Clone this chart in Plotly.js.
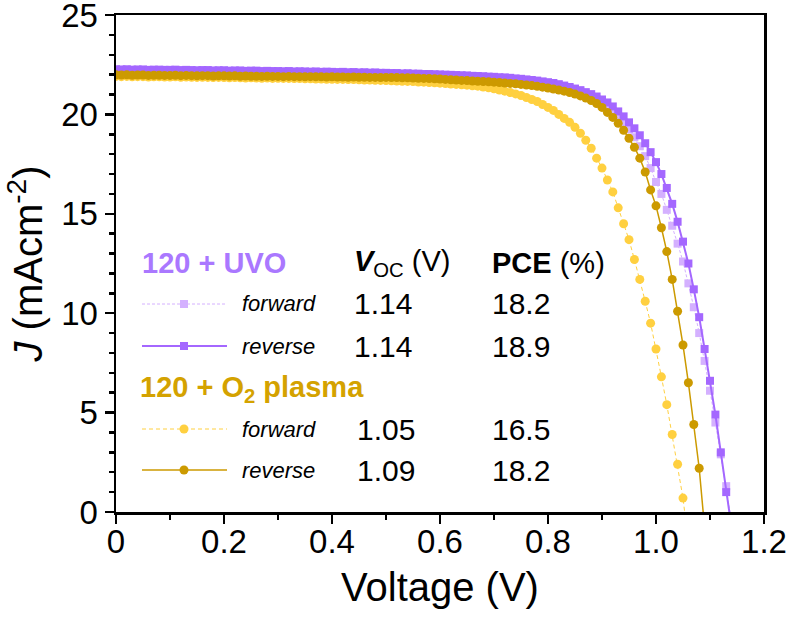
<!DOCTYPE html>
<html>
<head>
<meta charset="utf-8">
<script src="https://cdn.plot.ly/plotly-3.0.1.min.js"></script>
<style>html,body{margin:0;padding:0;background:#fff;}#chart{width:787px;height:618px;}</style>
</head>
<body>
<div id="chart"></div>
<script>
// ---- data ----
const voltage = [
 0.00,0.01,0.02,0.03,0.04,0.05,0.06,0.07,0.08,0.09,
 0.10,0.11,0.12,0.13,0.14,0.15,0.16,0.17,0.18,0.19,
 0.20,0.21,0.22,0.23,0.24,0.25,0.26,0.27,0.28,0.29,
 0.30,0.31,0.32,0.33,0.34,0.35,0.36,0.37,0.38,0.39,
 0.40,0.41,0.42,0.43,0.44,0.45,0.46,0.47,0.48,0.49,
 0.50,0.51,0.52,0.53,0.54,0.55,0.56,0.57,0.58,0.59,
 0.60,0.61,0.62,0.63,0.64,0.65,0.66,0.67,0.68,0.69,
 0.70,0.71,0.72,0.73,0.74,0.75,0.76,0.77,0.78,0.79,
 0.80,0.81,0.82,0.83,0.84,0.85,0.86,0.87,0.88,0.89,
 0.90,0.91,0.92,0.93,0.94,0.95,0.96,0.97,0.98,0.99,
 1.00,1.01,1.02,1.03,1.04,1.05,1.06,1.07,1.08,1.09,
 1.10,1.11,1.12,1.13,1.14
];
const uvoReverse = [
 22.27,22.26,22.27,22.25,22.26,22.26,22.24,22.25,22.25,22.24,
 22.24,22.25,22.23,22.24,22.23,22.22,22.23,22.23,22.21,22.22,
 22.22,22.20,22.21,22.21,22.19,22.20,22.20,22.18,22.19,22.18,
 22.18,22.17,22.18,22.16,22.17,22.16,22.15,22.16,22.14,22.15,
 22.14,22.13,22.14,22.12,22.13,22.11,22.12,22.10,22.11,22.09,
 22.09,22.08,22.08,22.06,22.07,22.05,22.05,22.03,22.03,22.02,
 22.01,22.00,21.99,21.98,21.97,21.96,21.94,21.93,21.92,21.90,
 21.89,21.87,21.86,21.84,21.81,21.79,21.76,21.73,21.70,21.66,
 21.62,21.58,21.52,21.45,21.38,21.30,21.22,21.12,21.02,20.90,
 20.75,20.60,20.40,20.15,19.90,19.60,19.30,18.95,18.55,18.10,
 17.60,17.00,16.30,15.50,14.60,13.60,12.50,11.20,9.80,8.20,
 6.60,4.90,3.00,1.00,-0.80
];
const uvoForward = [
 22.22,22.21,22.22,22.20,22.21,22.21,22.19,22.20,22.20,22.19,
 22.19,22.20,22.18,22.19,22.18,22.17,22.18,22.17,22.16,22.17,
 22.16,22.15,22.16,22.15,22.14,22.15,22.14,22.13,22.14,22.12,
 22.13,22.12,22.12,22.11,22.11,22.10,22.10,22.09,22.09,22.08,
 22.08,22.07,22.07,22.06,22.06,22.05,22.05,22.04,22.03,22.03,
 22.02,22.01,22.01,22.00,21.99,21.98,21.97,21.96,21.95,21.94,
 21.93,21.92,21.91,21.89,21.88,21.87,21.85,21.84,21.82,21.80,
 21.79,21.77,21.75,21.73,21.71,21.69,21.67,21.65,21.63,21.61,
 21.57,21.52,21.47,21.41,21.34,21.26,21.17,21.06,20.93,20.78,
 20.60,20.40,20.15,19.90,19.60,19.25,18.85,18.40,17.90,17.30,
 16.60,16.00,15.20,14.40,13.50,12.60,11.50,10.30,9.00,7.60,
 6.10,4.50,2.90,1.30,-0.50
];
const o2Reverse = [
 21.99,21.98,21.99,21.97,21.98,21.98,21.96,21.97,21.97,21.96,
 21.96,21.97,21.95,21.96,21.95,21.94,21.95,21.95,21.93,21.94,
 21.94,21.93,21.94,21.92,21.93,21.92,21.92,21.91,21.92,21.91,
 21.91,21.90,21.91,21.90,21.90,21.89,21.90,21.89,21.89,21.88,
 21.89,21.88,21.88,21.87,21.88,21.87,21.87,21.86,21.86,21.85,
 21.86,21.85,21.85,21.84,21.84,21.83,21.82,21.81,21.80,21.79,
 21.78,21.76,21.74,21.73,21.71,21.70,21.68,21.67,21.65,21.64,
 21.62,21.60,21.58,21.56,21.54,21.51,21.48,21.45,21.41,21.37,
 21.33,21.28,21.23,21.17,21.10,21.02,20.93,20.82,20.70,20.55,
 20.35,20.10,19.85,19.55,19.20,18.80,18.35,17.80,17.10,16.20,
 15.40,14.30,13.10,11.70,10.10,8.40,6.50,4.40,2.20,-0.80
];
const o2Forward = [
 21.91,21.90,21.91,21.89,21.90,21.90,21.88,21.89,21.89,21.88,
 21.88,21.89,21.87,21.88,21.87,21.86,21.87,21.86,21.85,21.86,
 21.85,21.84,21.85,21.84,21.83,21.84,21.83,21.82,21.83,21.81,
 21.82,21.81,21.81,21.80,21.80,21.79,21.79,21.78,21.78,21.77,
 21.77,21.76,21.76,21.75,21.75,21.74,21.73,21.73,21.72,21.71,
 21.70,21.69,21.68,21.67,21.66,21.65,21.63,21.62,21.60,21.59,
 21.57,21.55,21.53,21.51,21.49,21.47,21.44,21.42,21.38,21.34,
 21.29,21.23,21.17,21.10,21.03,20.95,20.85,20.75,20.65,20.50,
 20.35,20.20,20.00,19.80,19.60,19.35,19.05,18.70,18.30,17.80,
 17.30,16.70,16.10,15.30,14.50,13.70,12.70,11.70,10.60,9.50,
 8.20,6.80,5.40,3.90,2.40,0.70,-1.60
];
const xTickVals = [0, 0.2, 0.4, 0.6, 0.8, 1.0, 1.2];
const xTickText = ['0', '0.2', '0.4', '0.6', '0.8', '1.0', '1.2'];
const yTickVals = [0, 5, 10, 15, 20, 25];
const groupNames = ['120 + UVO', '120 + O<sub>2</sub> plasma'];
const scanNames = ['forward', 'reverse'];
const vocValues = [['1.14', '1.14'], ['1.05', '1.09']];
const pceValues = [['18.2', '18.9'], ['16.5', '18.2']];

// ---- styles ----
const FONT = 'Liberation Sans, Arial, Helvetica, sans-serif';
const cPurple = '#A467FF', cLilac = '#D4B0FF', cGold = '#CC9A00', cYellow = '#FFD040';
const headColors = ['#AA78FF', '#D4A200'];

const traces = [
  {x: voltage.slice(0, uvoForward.length), y: uvoForward, mode: 'lines+markers',
   line: {color: cLilac, width: 1, dash: '3px,2px'}, marker: {symbol: 'square', size: 8, color: cLilac}},
  {x: voltage.slice(0, uvoReverse.length), y: uvoReverse, mode: 'lines+markers',
   line: {color: cPurple, width: 2}, marker: {symbol: 'square', size: 8, color: cPurple}},
  {x: voltage.slice(0, o2Forward.length), y: o2Forward, mode: 'lines+markers',
   line: {color: cYellow, width: 1, dash: '4px,3px'}, marker: {symbol: 'circle', size: 9, color: cYellow}},
  {x: voltage.slice(0, o2Reverse.length), y: o2Reverse, mode: 'lines+markers',
   line: {color: cGold, width: 1.5}, marker: {symbol: 'circle', size: 9, color: cGold}}
];

// plot area in pixels
const L = 116, R = 764, T = 15, B = 512;
const px = v => (v - L) / (R - L);
const py = v => (B - v) / (B - T);

const annotations = [];
const shapes = [];
function txt(text, x, y, size, color) {
  annotations.push({text: text, xref: 'paper', yref: 'paper', x: px(x), y: py(y),
    xanchor: 'left', yanchor: 'middle', showarrow: false,
    font: {family: FONT, size: size, color: color || '#000'}});
}
// header row
txt('<b>' + groupNames[0] + '</b>', 140, 263, 29, headColors[0]);
txt('<b><i>V</i></b><sub>OC</sub> (V)', 352, 263, 29);
txt('<b>PCE</b> (%)', 490, 263, 29);
txt('<b>' + groupNames[1] + '</b>', 138, 389, 29, headColors[1]);
const rowY = [[304, 346], [429, 470]];
const sampleStyle = [
  [{c: cLilac, w: 1, d: '3px,2px', sym: 'square'}, {c: cPurple, w: 2, d: 'solid', sym: 'square'}],
  [{c: cYellow, w: 1, d: '4px,3px', sym: 'circle'}, {c: cGold, w: 1.5, d: 'solid', sym: 'circle'}]
];
const vocX = [352, 355];
for (let g = 0; g < 2; g++) {
  for (let s = 0; s < 2; s++) {
    const y = rowY[g][s];
    txt('<i>' + scanNames[s] + '</i>', 240, y, 22);
    txt(vocValues[g][s], vocX[g], y, 30);
    txt(pceValues[g][s], 490, y, 30);
    const st = sampleStyle[g][s];
    shapes.push({type: 'line', xref: 'paper', yref: 'paper', x0: px(142), x1: px(227), y0: py(y), y1: py(y),
      line: {color: st.c, width: st.w, dash: st.d}});
    const r = st.sym === 'square' ? 4 : 4.5;
    shapes.push({type: st.sym === 'square' ? 'rect' : 'circle', xref: 'paper', yref: 'paper',
      x0: px(184 - r), x1: px(184 + r), y0: py(y + r), y1: py(y - r),
      fillcolor: st.c, line: {width: 0}});
  }
}

const axisCommon = {
  showline: true, linewidth: 2.5, linecolor: '#000', mirror: true,
  ticks: 'outside', ticklen: 9, tickwidth: 2.5, tickcolor: '#000',
  showgrid: false, zeroline: false, ticklabeloverflow: 'allow',
  tickfont: {family: FONT, size: 33, color: '#000'}
};
const layout = {
  width: 787, height: 618,
  margin: {l: L, r: 787 - R, t: T, b: 618 - B, pad: 0},
  paper_bgcolor: '#fff', plot_bgcolor: '#fff',
  showlegend: false,
  font: {family: FONT, color: '#000'},
  xaxis: Object.assign({}, axisCommon, {
    range: [0, 1.2], tickmode: 'array', tickvals: xTickVals, ticktext: xTickText,
    ticklabelstandoff: -10,
    minor: {tickmode: 'linear', tick0: 0, dtick: 0.1, ticks: 'outside', ticklen: 5, tickwidth: 2.5, tickcolor: '#000'},
    title: {text: 'Voltage (V)', font: {family: FONT, size: 40, color: '#000'}, standoff: 14}
  }),
  yaxis: Object.assign({}, axisCommon, {
    range: [0, 25], tickmode: 'array', tickvals: yTickVals,
    minor: {tickmode: 'linear', tick0: 0, dtick: 1, ticks: 'outside', ticklen: 5, tickwidth: 2.5, tickcolor: '#000'},
    title: {text: '<i>J</i> (mAcm<sup>-2</sup>)', font: {family: FONT, size: 40, color: '#000'}, standoff: 6}
  }),
  annotations: annotations,
  shapes: shapes
};
Plotly.newPlot('chart', traces, layout, {displayModeBar: false, staticPlot: true});
</script>
</body>
</html>
